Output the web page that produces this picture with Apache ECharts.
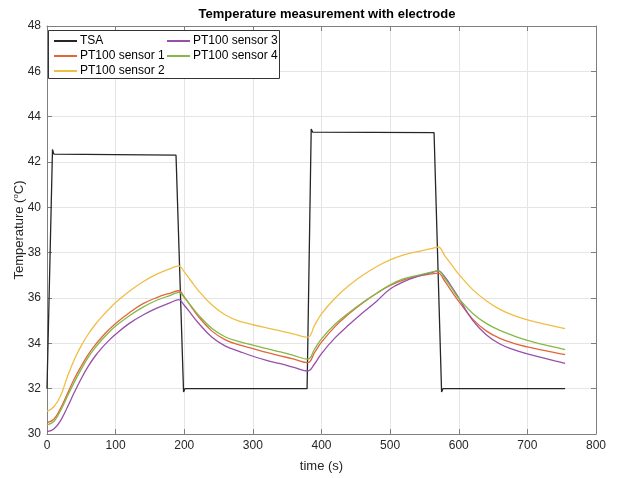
<!DOCTYPE html>
<html>
<head>
<meta charset="utf-8">
<script src="https://cdn.jsdelivr.net/npm/echarts@6/dist/echarts.min.js"></script>
<style>
  html, body { margin: 0; padding: 0; background: #fff; }
  #chart { width: 618px; height: 478px; }
</style>
</head>
<body>
<div id="chart"></div>
<script>
// Sample times (s) shared by the PT100 sensor traces
const sensorTime = [0, 10, 20, 30, 40, 50, 60, 70, 80, 90, 100, 120, 140, 160, 180, 192,
  200, 210, 220, 240, 260, 280, 300, 320, 340, 360, 380,
  390, 400, 420, 440, 460, 480, 500, 520, 540, 560, 570,
  580, 590, 600, 620, 640, 660, 680, 700, 720, 740, 755];

// PT100 sensor temperatures (°C)
const sensor1 = [30.5, 30.65, 31.15, 31.8, 32.45, 33.0, 33.5, 33.92, 34.28, 34.6, 34.88, 35.35, 35.75, 36.02, 36.22, 36.32,
  36.05, 35.62, 35.2, 34.55, 34.15, 33.93, 33.77, 33.6, 33.45, 33.3, 33.15,
  33.6, 34.05, 34.75, 35.3, 35.78, 36.2, 36.55, 36.8, 36.96, 37.06, 37.1,
  36.72, 36.28, 35.85, 35.08, 34.55, 34.22, 34.0, 33.84, 33.71, 33.59, 33.5];
const sensor2 = [31.0, 31.2, 31.7, 32.55, 33.3, 33.9, 34.4, 34.82, 35.18, 35.5, 35.8, 36.3, 36.72, 37.05, 37.3, 37.42,
  37.15, 36.75, 36.35, 35.7, 35.25, 34.98, 34.82, 34.68, 34.55, 34.41, 34.27,
  34.8, 35.3, 36.0, 36.55, 37.0, 37.38, 37.68, 37.9, 38.05, 38.18, 38.25,
  37.85, 37.45, 37.05, 36.38, 35.88, 35.5, 35.23, 35.03, 34.88, 34.75, 34.65];
const sensor3 = [30.1, 30.22, 30.6, 31.2, 31.85, 32.45, 32.98, 33.43, 33.8, 34.12, 34.4, 34.88, 35.25, 35.55, 35.8, 35.93,
  35.68, 35.3, 34.92, 34.28, 33.88, 33.65, 33.43, 33.25, 33.1, 32.94, 32.78,
  33.1, 33.55, 34.25, 34.82, 35.35, 35.85, 36.4, 36.72, 36.95, 37.12, 37.2,
  36.92, 36.48, 36.0, 35.02, 34.38, 33.97, 33.72, 33.53, 33.38, 33.23, 33.12];
const sensor4 = [30.4, 30.55, 31.05, 31.68, 32.3, 32.86, 33.38, 33.8, 34.16, 34.48, 34.76, 35.22, 35.6, 35.9, 36.12, 36.25,
  36.02, 35.65, 35.28, 34.66, 34.28, 34.08, 33.92, 33.77, 33.62, 33.46, 33.3,
  33.75, 34.2, 34.85, 35.35, 35.8, 36.2, 36.58, 36.85, 37.0, 37.14, 37.2,
  36.85, 36.42, 35.98, 35.33, 34.88, 34.57, 34.33, 34.13, 33.97, 33.83, 33.72];

// TSA set-point trace: times (s) and temperatures (°C)
const tsaTime = [0, 8, 10, 188, 199, 201, 379, 385, 387, 564, 575, 577, 755];
const tsaTemp = [32.0, 42.55, 42.35, 42.3, 31.85, 32.0, 32.0, 43.45, 43.32, 43.3, 31.85, 32.0, 32.0];

// Axis ticks
const xTicks = { min: 0, max: 800, step: 100 };
const yTicks = { min: 30, max: 48, step: 2 };

const zip = (xs, ys) => xs.map((x, i) => [x, ys[i]]);

const FONT = '"Liberation Sans", Arial, Helvetica, sans-serif';
const AXIS_COLOR = '#7f7f7f';
const TEXT_COLOR = '#262626';

const names = ['TSA', 'PT100 sensor 1', 'PT100 sensor 2', 'PT100 sensor 3', 'PT100 sensor 4'];
const colors = ['#262626', '#E2663A', '#F0BE45', '#9650AA', '#84B848'];

function lineSeries(name, data, color, smooth) {
  return {
    name: name,
    type: 'line',
    data: data,
    symbol: 'none',
    smooth: smooth ? 0.4 : false,
    lineStyle: { color: color, width: 1.3 },
    itemStyle: { color: color },
    emphasis: { disabled: true },
    animation: false
  };
}

const sideAxisX = (pos, labels) => ({
  type: 'value', position: pos, min: xTicks.min, max: xTicks.max, interval: xTicks.step,
  axisLine: { show: true, onZero: false, lineStyle: { color: AXIS_COLOR, width: 1 } },
  axisTick: { show: true, inside: true, length: 5, lineStyle: { color: AXIS_COLOR } },
  axisLabel: { show: labels, color: TEXT_COLOR, fontFamily: FONT, fontSize: 12, margin: 6 },
  splitLine: { show: labels, lineStyle: { color: '#e5e5e5', width: 1 } }
});
const sideAxisY = (pos, labels) => ({
  type: 'value', position: pos, min: yTicks.min, max: yTicks.max, interval: yTicks.step,
  axisLine: { show: true, onZero: false, lineStyle: { color: AXIS_COLOR, width: 1 } },
  axisTick: { show: true, inside: true, length: 5, lineStyle: { color: AXIS_COLOR } },
  axisLabel: { show: labels, color: TEXT_COLOR, fontFamily: FONT, fontSize: 12, margin: 6 },
  splitLine: { show: labels, lineStyle: { color: '#e5e5e5', width: 1 } }
});

const xBottom = Object.assign(sideAxisX('bottom', true), {
  name: 'time (s)', nameLocation: 'middle', nameGap: 26, nameMoveOverlap: false,
  nameTextStyle: { color: TEXT_COLOR, fontFamily: FONT, fontSize: 13 }
});
const yLeft = Object.assign(sideAxisY('left', true), {
  name: 'Temperature ({sup|o}C)', nameLocation: 'middle', nameGap: 20, nameMoveOverlap: false,
  nameTextStyle: {
    color: TEXT_COLOR, fontFamily: FONT, fontSize: 13,
    rich: { sup: { fontSize: 8, fontFamily: FONT, color: TEXT_COLOR, verticalAlign: 'top', padding: [0, 0, 7, 0] } }
  }
});

const legendBase = {
  orient: 'vertical', top: 35, z: 5, icon: 'rect', padding: 0,
  itemWidth: 23, itemHeight: 2, itemGap: 3,
  textStyle: { fontFamily: FONT, fontSize: 12, color: '#000', padding: [0, 0, 0, -2] }, selectedMode: false
};

const chart = echarts.init(document.getElementById('chart'), null, { renderer: 'canvas' });
chart.setOption({
  backgroundColor: '#ffffff',
  animation: false,
  title: {
    text: 'Temperature measurement with electrode',
    left: 322, top: 3, textAlign: 'center',
    textStyle: { fontFamily: FONT, fontSize: 13, fontWeight: 'bold', color: '#000' }
  },
  grid: { left: 47, right: 22, top: 26, bottom: 44, containLabel: false, outerBoundsMode: 'none' },
  xAxis: [xBottom, sideAxisX('top', false)],
  yAxis: [yLeft, sideAxisY('right', false)],
  graphic: [{
    type: 'rect', z: 3,
    shape: { x: 48.5, y: 30.5, width: 231, height: 48 },
    style: { fill: '#ffffff', stroke: '#333333', lineWidth: 1 }
  }],
  legend: [
    Object.assign({}, legendBase, { data: names.slice(0, 3), left: 54 }),
    Object.assign({}, legendBase, { data: names.slice(3), left: 167 })
  ],
  series: [
    lineSeries(names[0], zip(tsaTime, tsaTemp), colors[0], false),
    lineSeries(names[1], zip(sensorTime, sensor1), colors[1], true),
    lineSeries(names[2], zip(sensorTime, sensor2), colors[2], true),
    lineSeries(names[3], zip(sensorTime, sensor3), colors[3], true),
    lineSeries(names[4], zip(sensorTime, sensor4), colors[4], true)
  ]
});
</script>
</body>
</html>
